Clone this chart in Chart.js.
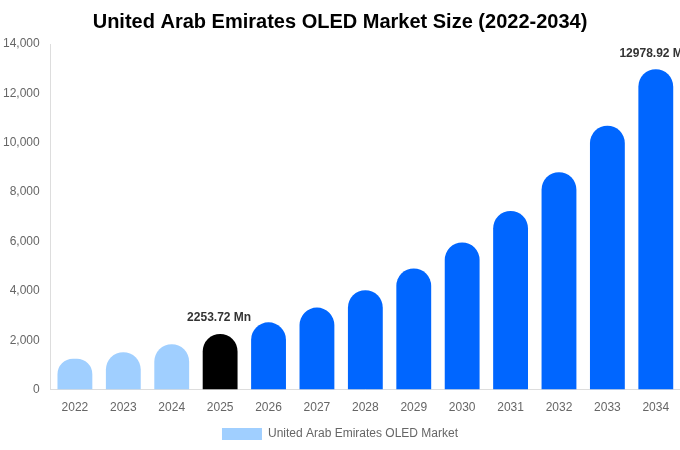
<!DOCTYPE html>
<html>
<head>
<meta charset="utf-8">
<script src="https://cdn.jsdelivr.net/npm/chart.js@4"></script>
<style>
  html, body { margin: 0; padding: 0; background: #fff; }
  #wrap { width: 680px; height: 450px; }
</style>
</head>
<body>
<div id="wrap"><canvas id="chart"></canvas></div>
<script>
// Valores (USD Mn)
const years = ["2022", "2023", "2024", "2025", "2026", "2027", "2028", "2029", "2030", "2031", "2032", "2033", "2034"];
const marketSize = [1248, 1516, 1841, 2253.72, 2724, 3321, 4024, 4906, 5963, 7236, 8809, 10691, 12978.92];
const barColors = ["#a0cfff", "#a0cfff", "#a0cfff", "#000000", "#0066ff", "#0066ff", "#0066ff", "#0066ff", "#0066ff", "#0066ff", "#0066ff", "#0066ff", "#0066ff"];
const labeledYears = ["2025", "2034"];

Chart.defaults.font.family = "'Liberation Sans', Arial, sans-serif";

// Rótulo acima das barras selecionadas
const valueLabels = {
    id: "valueLabels",
    afterDatasetsDraw(chart) {
        const ctx = chart.ctx;
        const meta = chart.getDatasetMeta(0);
        ctx.save();
        ctx.font = "bold 12px 'Liberation Sans', Arial, sans-serif";
        ctx.fillStyle = "#333333";
        ctx.textAlign = "center";
        ctx.textBaseline = "bottom";
        years.forEach((year, i) => {
            if (!labeledYears.includes(year)) return;
            const bar = meta.data[i];
            ctx.fillText(marketSize[i].toFixed(2) + " Mn", bar.x - 1, bar.y - 10);
        });
        ctx.restore();
    }
};

new Chart(document.getElementById("chart"), {
    type: "bar",
    data: {
        labels: years,
        datasets: [{
            label: "United Arab Emirates OLED Market",
            data: marketSize,
            backgroundColor: barColors,
            borderRadius: { topLeft: 18, topRight: 18 },
            borderSkipped: "start",
            categoryPercentage: 0.8,
            barPercentage: 0.9
        }]
    },
    options: {
        responsive: true,
        maintainAspectRatio: false,
        animation: false,
        layout: { padding: 0 },
        plugins: {
            title: {
                display: true,
                text: "United Arab Emirates OLED Market Size (2022-2034)",
                color: "#000000",
                font: { size: 20, weight: "bold" },
                padding: { top: 10, bottom: 10 }
            },
            legend: {
                position: "bottom",
                labels: {
                    color: "#666666",
                    font: { size: 12 },
                    boxWidth: 40,
                    boxHeight: 12,
                    padding: 10
                }
            },
            tooltip: { enabled: false }
        },
        scales: {
            x: {
                grid: { display: false },
                border: { color: "#dddddd" },
                ticks: { color: "#666666", font: { size: 12 } }
            },
            y: {
                min: 0,
                max: 14000,
                grid: { display: false },
                border: { color: "#dddddd" },
                ticks: { color: "#666666", font: { size: 12 }, stepSize: 2000 }
            }
        }
    },
    plugins: [valueLabels]
});
</script>
</body>
</html>
